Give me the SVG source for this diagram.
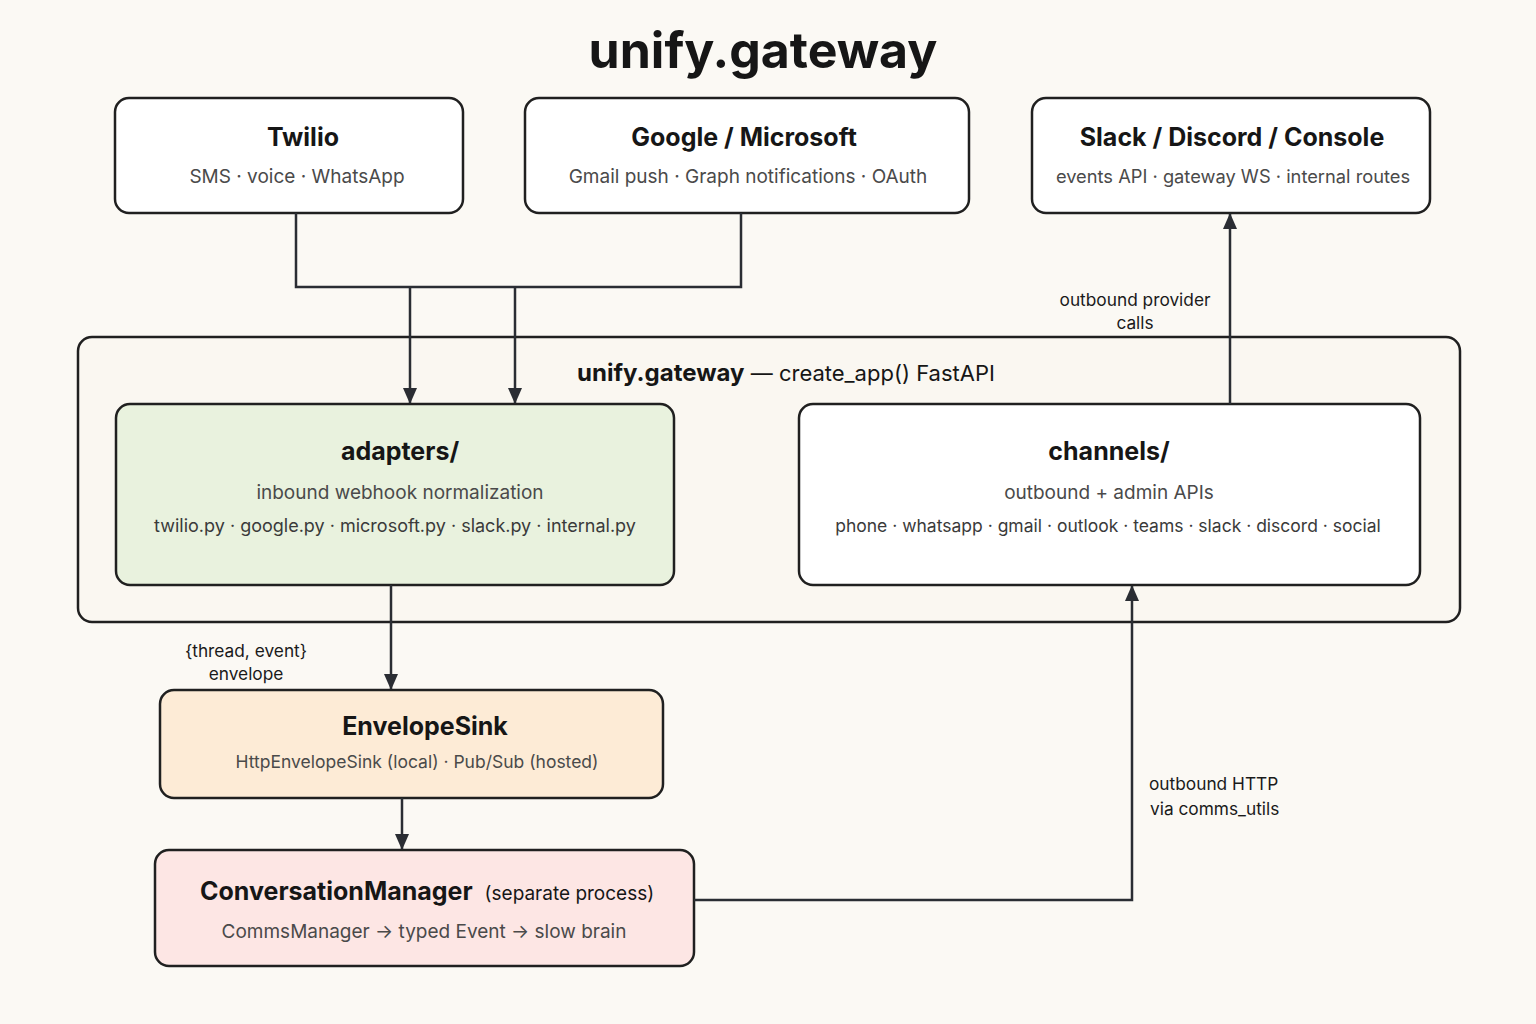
<svg xmlns="http://www.w3.org/2000/svg" width="1536" height="1024" viewBox="0 0 1536 1024">
<defs>
<marker id="ah" viewBox="0 0 16 14" refX="15" refY="7" markerWidth="16" markerHeight="14" markerUnits="userSpaceOnUse" orient="auto">
<path d="M0,0 L16,7 L0,14 Z" fill="#2a2d33"/>
</marker>
<style>
text{font-family:Inter,"Liberation Sans",Arial,sans-serif;fill:#161616}
.box{stroke:#202020;stroke-width:2.5}
.t{font-weight:700;font-size:25px;text-anchor:middle}
.s{font-size:19px;fill:#4a4a4a;text-anchor:middle}
.f{font-size:18px;fill:#3a3a3a;text-anchor:middle}
.lbl{font-size:17.3px;fill:#1a1a1a}
.c{fill:none;stroke:#2a2d33;stroke-width:2.5}
</style>
</defs>
<rect width="1536" height="1024" fill="#fbf9f4"/>
<text x="763" y="68" style="font-size:50px;font-weight:700;text-anchor:middle">unify.gateway</text>

<g id="container">
<rect class="box" x="78" y="337" width="1382" height="285" rx="14" fill="#faf7f1"/>
<text x="786" y="381" style="font-size:22px;text-anchor:middle"><tspan font-weight="700" font-size="24">unify.gateway</tspan> — create_app() FastAPI</text>
</g>

<g id="twilio">
<rect class="box" x="115" y="98" width="348" height="115" rx="14" fill="#ffffff"/>
<text class="t" x="303" y="146">Twilio</text>
<text class="s" x="297" y="183">SMS · voice · WhatsApp</text>
</g>
<g id="google">
<rect class="box" x="525" y="98" width="444" height="115" rx="14" fill="#ffffff"/>
<text class="t" x="744" y="146">Google / Microsoft</text>
<text class="s" x="748" y="183">Gmail push · Graph notifications · OAuth</text>
</g>
<g id="slack">
<rect class="box" x="1032" y="98" width="398" height="115" rx="14" fill="#ffffff"/>
<text class="t" x="1232" y="146">Slack / Discord / Console</text>
<text class="s" x="1233" y="183" style="font-size:18.3px">events API · gateway WS · internal routes</text>
</g>

<g id="adapters">
<rect class="box" x="116" y="404" width="558" height="181" rx="14" fill="#e9f2de"/>
<text class="t" x="400" y="460">adapters/</text>
<text class="s" x="400" y="499">inbound webhook normalization</text>
<text class="f" x="395" y="532">twilio.py · google.py · microsoft.py · slack.py · internal.py</text>
</g>
<g id="channels">
<rect class="box" x="799" y="404" width="621" height="181" rx="14" fill="#ffffff"/>
<text class="t" x="1109" y="460">channels/</text>
<text class="s" x="1109" y="499">outbound + admin APIs</text>
<text class="f" x="1108" y="532" style="font-size:17.5px">phone · whatsapp · gmail · outlook · teams · slack · discord · social</text>
</g>

<g id="envelopesink">
<rect class="box" x="160" y="690" width="503" height="108" rx="14" fill="#fdebd6"/>
<text class="t" x="425" y="735">EnvelopeSink</text>
<text class="s" x="417" y="768" style="font-size:17.5px">HttpEnvelopeSink (local) · Pub/Sub (hosted)</text>
</g>
<g id="conversationmanager">
<rect class="box" x="155" y="850" width="539" height="116" rx="14" fill="#fde6e4"/>
<text x="200" y="900" style="font-size:25px;font-weight:700">ConversationManager <tspan font-weight="400" font-size="19" dx="6">(separate process)</tspan></text>
<text class="s" x="424" y="938">CommsManager → typed Event → slow brain</text>
</g>

<g id="connectors">
<path class="c" d="M296,213 V287 H741 V213"/>
<path class="c" d="M410,287 V403" marker-end="url(#ah)"/>
<path class="c" d="M515,287 V403" marker-end="url(#ah)"/>
<path class="c" d="M391,585 V689" marker-end="url(#ah)"/>
<path class="c" d="M402,798 V849" marker-end="url(#ah)"/>
<path class="c" d="M694,900 H1132 V586" marker-end="url(#ah)"/>
<path class="c" d="M1230,404 V214" marker-end="url(#ah)"/>
<text class="lbl" x="1135" y="306" text-anchor="middle">outbound provider</text>
<text class="lbl" x="1135" y="329" text-anchor="middle">calls</text>
<text class="lbl" x="246" y="657" text-anchor="middle">{thread, event}</text>
<text class="lbl" x="246" y="680" text-anchor="middle">envelope</text>
<text class="lbl" x="1149" y="790">outbound HTTP</text>
<text class="lbl" x="1150" y="815">via comms_utils</text>
</g>
</svg>
